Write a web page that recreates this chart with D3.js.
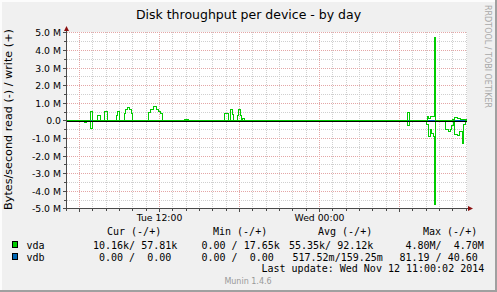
<!DOCTYPE html>
<html><head><meta charset="utf-8">
<script src="https://cdn.jsdelivr.net/npm/d3@7"></script>
<style>body{margin:0;background:#fff}svg text{white-space:pre}</style>
</head><body><svg id="c" width="497" height="292" xmlns="http://www.w3.org/2000/svg"></svg>
<script>
// ---------- data ----------
const title = "Disk throughput per device - by day";
const yAxisLabel = "Bytes/second read (-) / write (+)";
const watermark = "RRDTOOL / TOBI OETIKER";
const yTickValues = [5, 4, 3, 2, 1, 0, -1, -2, -3, -4, -5];          // millions
const yTickLabels = ["5.0 M","4.0 M","3.0 M","2.0 M","1.0 M","0.0","-1.0 M","-2.0 M","-3.0 M","-4.0 M","-5.0 M"];
const xTickHours = [12, 24];                                          // hours since Tue 00:00
const xTickLabels = ["Tue 12:00", "Wed 00:00"];
const startHour = 5.0625, endHour = 35.0625;                          // Tue 05:03:45 .. Wed 11:03:45

// vda write (+), step series: hours since Tue 00:00 / value in M bytes/s
const vdaWriteHours  = [5.06,6.79,6.94,7.36,7.59,7.91,8.09,8.79,8.83,8.98,9.34,9.43,9.58,9.73,9.88,9.99,
  11.16,11.34,11.54,11.74,11.91,12.04,12.21,13.84,14.14,16.91,17.21,17.34,17.44,17.54,17.86,17.91,18.09,18.13,
  18.21,18.36,30.61,30.76,32.11,32.21,32.36,32.61,32.70,33.96,34.11,34.35,34.54,35.06];
const vdaWriteValues = [0,0.50,0,0.28,0,0.49,0,0.28,0.49,0,0.38,0.62,0.74,0.62,0.42,0,
  0.44,0.63,0.78,0.63,0.53,0.39,0,0.05,0,0.38,0,0.62,0.34,0,0.28,0.60,0.28,0,
  0.10,0,0.44,0,0.25,0.13,0.20,4.70,0,0.05,0.15,0.10,0.06,0.06];
// vda read (-)
const vdaReadHours  = [5.06,6.34,6.49,6.79,6.94,30.34,30.51,30.61,30.76,32.04,32.16,32.29,32.41,32.54,32.61,32.70,
  33.43,33.66,33.79,33.91,34.06,34.14,34.33,34.48,34.69,34.78,34.93,35.06];
const vdaReadValues = [0,0.12,0,0.47,0,0.08,0,0.27,0,0.20,0.89,0.51,0.75,0.89,4.80,0,
  0.51,0.60,0.51,0.28,0,0.80,0.88,0.60,1.33,0.20,0.01,0.01];
// vdb (essentially zero)
const vdbHours  = [5.06, 35.06];
const vdbValues = [0, 0];

const legendNames  = ["vda", "vdb"];
const legendColors = ["#00CC00", "#0066B3"];
const legendHeaders = ["Cur (-/+)", "Min (-/+)", "Avg (-/+)", "Max (-/+)"];
const legendCur = ["10.16k/ 57.81k", "0.00 /  0.00"];
const legendMin = ["0.00 / 17.65k", "0.00 /  0.00"];
const legendAvg = ["55.35k/ 92.12k", "517.52m/159.25m"];
const legendMax = ["4.80M/  4.70M", "81.19 / 40.60"];
const lastUpdate = "Last update: Wed Nov 12 11:00:02 2014";
const footer = "Munin 1.4.6";

// ---------- drawing ----------
const svg = d3.select("#c");
const W = 497, H = 292;
const base = new Date(2014, 10, 11, 0, 0, 0).getTime();
const toDate = h => new Date(base + h * 3600e3);

const x = d3.scaleTime().domain([toDate(startHour), toDate(endHour)]).range([67, 467]);
const y = d3.scaleLinear().domain([-5, 5]).range([208.5, 32.5]);
const cx = v => Math.floor(v) + 0.5;
const cy = v => Math.floor(v + 0.4) + 0.5;

svg.append("rect").attr("width", W).attr("height", H).attr("fill", "#F0F0F0");
// frame shading
svg.append("rect").attr("x",0).attr("y",0).attr("width",W).attr("height",2).attr("fill","#FCFCFC");
svg.append("rect").attr("x",0).attr("y",0).attr("width",2).attr("height",H).attr("fill","#FCFCFC");
svg.append("rect").attr("x",0).attr("y",H-2).attr("width",W).attr("height",2).attr("fill","#A0A0A0");
svg.append("rect").attr("x",W-2).attr("y",0).attr("width",2).attr("height",H).attr("fill","#A0A0A0");

// canvas
svg.append("rect").attr("x", 67).attr("y", 32).attr("width", 400).attr("height", 177).attr("fill", "#FFFFFF");

const g = svg.append("g").attr("shape-rendering", "crispEdges");

// minor grids
const hourTicks = x.ticks(d3.timeHour.every(1));
hourTicks.forEach(t => {
  if (t.getHours() % 6 === 0) return;
  g.append("line").attr("x1", cx(x(t))).attr("x2", cx(x(t))).attr("y1", 32).attr("y2", 208)
    .attr("stroke", "#CFCFCF").attr("stroke-dasharray", "1,1");
});
const halfTicks = y.ticks(20);
halfTicks.forEach(v => {
  if (Math.abs(v - Math.round(v)) < 1e-9) return;
  g.append("line").attr("x1", 67).attr("x2", 467).attr("y1", cy(y(v))).attr("y2", cy(y(v)))
    .attr("stroke", "#CFCFCF").attr("stroke-dasharray", "1,1");
});
// major grids
hourTicks.filter(t => t.getHours() % 6 === 0).forEach(t => {
  g.append("line").attr("x1", cx(x(t))).attr("x2", cx(x(t))).attr("y1", 32).attr("y2", 208)
    .attr("stroke", "#E4A6A6").attr("stroke-dasharray", "1,1");
});
yTickValues.forEach(v => {
  g.append("line").attr("x1", 67).attr("x2", 467).attr("y1", cy(y(v))).attr("y2", cy(y(v)))
    .attr("stroke", "#E4A6A6").attr("stroke-dasharray", "1,1");
});

// axis lines and ticks
const axisCol = "#4A4A4A";
g.append("line").attr("x1", 66.5).attr("x2", 66.5).attr("y1", 29).attr("y2", 211).attr("stroke", axisCol);
g.append("line").attr("x1", 64).attr("x2", 469).attr("y1", 208.5).attr("y2", 208.5).attr("stroke", axisCol);
yTickValues.forEach(v => {
  g.append("line").attr("x1", 63).attr("x2", 66).attr("y1", cy(y(v))).attr("y2", cy(y(v))).attr("stroke", axisCol);
});
halfTicks.forEach(v => {
  g.append("line").attr("x1", 64).attr("x2", 66).attr("y1", cy(y(v))).attr("y2", cy(y(v))).attr("stroke", axisCol);
});
hourTicks.forEach(t => {
  const major = t.getHours() % 6 === 0;
  g.append("line").attr("x1", cx(x(t))).attr("x2", cx(x(t))).attr("y1", 209).attr("y2", major ? 212 : 211)
    .attr("stroke", axisCol);
});
// arrows
svg.append("path").attr("d", "M64,31 L69,31 L66.5,26 Z").attr("fill", "#8B1010");
svg.append("path").attr("d", "M468,206 L468,211 L473,208.5 Z").attr("fill", "#8B1010");

// series lines
const mk = (hours, vals, sign) => hours.map((h, i) => [toDate(h), sign * vals[i]]);
const line = d3.line().x(d => x(d[0])).y(d => y(d[1])).curve(d3.curveStepAfter);
const dl = svg.append("g").attr("fill", "none").attr("shape-rendering", "crispEdges");
dl.append("path").attr("d", line(mk(vdbHours, vdbValues, 1))).attr("stroke", legendColors[1]);
dl.append("path").attr("d", line(mk(vdbHours, vdbValues, -1))).attr("stroke", legendColors[1]);
dl.append("path").attr("d", line(mk(vdaReadHours, vdaReadValues, -1))).attr("stroke", legendColors[0]).attr("stroke-width", 1);
dl.append("path").attr("d", line(mk(vdaWriteHours, vdaWriteValues, 1))).attr("stroke", legendColors[0]).attr("stroke-width", 1);
// zero rule
dl.append("line").attr("x1", 67).attr("x2", 467).attr("y1", 121.5).attr("y2", 121.5).attr("stroke", "#000").attr("stroke-width", 1.3);

// texts
const sans = "DejaVu Sans, sans-serif";
const mono = "DejaVu Sans Mono, monospace";
svg.append("text").attr("x", 248.5).attr("y", 19).attr("text-anchor", "middle")
  .attr("font-family", sans).attr("font-size", 12.5).attr("fill", "#000").text(title);
svg.append("text").attr("transform", "translate(12,119.5) rotate(-90)").attr("text-anchor", "middle")
  .attr("font-family", sans).attr("font-size", 11.2).attr("fill", "#000").text(yAxisLabel);
svg.append("text").attr("transform", "translate(485,5) rotate(90)").attr("text-anchor", "start")
  .attr("font-family", sans).attr("font-size", 8).attr("fill", "#A8A8A8").text(watermark);

yTickValues.forEach((v, i) => {
  svg.append("text").attr("x", 61).attr("y", cy(y(v)) + 3.3).attr("text-anchor", "end")
    .attr("font-family", sans).attr("font-size", 9.3).attr("fill", "#000").text(yTickLabels[i]);
});
xTickHours.forEach((h, i) => {
  svg.append("text").attr("x", x(toDate(h))).attr("y", 221).attr("text-anchor", "middle")
    .attr("font-family", sans).attr("font-size", 9.3).attr("fill", "#000").text(xTickLabels[i]);
});

// legend
const headerX = [107, 213, 318, 423];
legendHeaders.forEach((t, i) => {
  svg.append("text").attr("x", headerX[i]).attr("y", 235).attr("font-family", mono).attr("font-size", 10)
    .attr("xml:space", "preserve").text(t);
});
const rowY = [248.5, 261];
const colX = [[93, 201.5, 289, 405.5], [99, 201.5, 292.5, 399.5]];
legendNames.forEach((n, i) => {
  svg.append("rect").attr("x", 12.5).attr("y", rowY[i] - 7.5).attr("width", 5).attr("height", 6)
    .attr("fill", legendColors[i]).attr("stroke", "#000").attr("stroke-width", 1).attr("shape-rendering", "crispEdges");
  svg.append("text").attr("x", 26.5).attr("y", rowY[i]).attr("font-family", mono).attr("font-size", 10).text(n);
  [legendCur[i], legendMin[i], legendAvg[i], legendMax[i]].forEach((s, j) => {
    svg.append("text").attr("x", colX[i][j]).attr("y", rowY[i]).attr("font-family", mono).attr("font-size", 10)
      .attr("xml:space", "preserve").text(s);
  });
});
svg.append("text").attr("x", 261.5).attr("y", 272).attr("font-family", mono).attr("font-size", 10)
  .attr("xml:space", "preserve").text(lastUpdate);
svg.append("text").attr("x", 248).attr("y", 284).attr("text-anchor", "middle").attr("font-family", sans)
  .attr("font-size", 8).attr("fill", "#999").text(footer);
</script></body></html>
